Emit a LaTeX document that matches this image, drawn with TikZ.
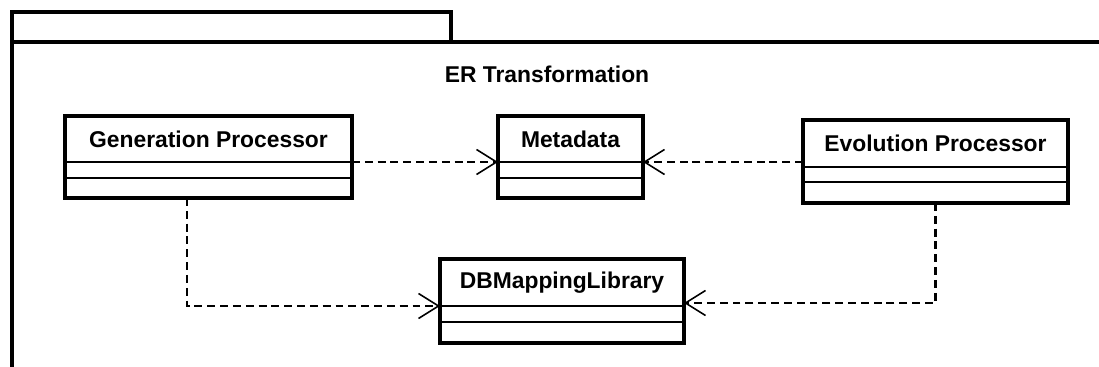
\documentclass[tikz,border=0pt]{standalone}
\usepackage{fontspec}
\setmainfont{Liberation Sans}
\usetikzlibrary{arrows.meta}

\begin{document}
\begin{tikzpicture}
% Define common styles
\tikzset{
    classname/.style={draw, line width=0.8pt, inner sep=0pt, outer sep=0pt, font=\bfseries\fontsize{13}{15}\selectfont},
    compart/.style={draw, line width=0.8pt, inner sep=0pt, outer sep=0pt, anchor=north},
    outline/.style={line width=2.1pt},
    pkg/.style={line width=2.1pt},
    dependency/.style={-{Straight Barb[length=4mm,width=5mm,line width=0.9pt]}, line width=1.3pt, dash pattern=on 4.5pt off 2.8pt},
    label/.style={font=\bfseries\fontsize{13}{15}\selectfont}
}
\useasboundingbox (0,0) rectangle (21.98,-7.34);

% Package frame
\draw[pkg] (0.24,-0.84) -- (0.24,-0.24) -- (9.02,-0.24) -- (9.02,-0.84);
\draw[pkg] (0.24,-7.5) -- (0.24,-0.84) -- (22.2,-0.84);
\node[label] (title) at (10.94,-1.48) {ER Transformation};

% Generation Processor
\node[classname, minimum width=5.74cm, minimum height=0.92cm] (gen) at (4.17,-2.78) {Generation Processor};
\node[compart, minimum width=5.74cm, minimum height=0.32cm] (genA) at (gen.south) {};
\node[compart, minimum width=5.74cm, minimum height=0.40cm] (genO) at (genA.south) {};
\draw[outline] (gen.north west) rectangle (genO.south east);

% Metadata
\node[classname, minimum width=2.9cm, minimum height=0.92cm] (meta) at (11.41,-2.78) {Metadata};
\node[compart, minimum width=2.9cm, minimum height=0.32cm] (metaA) at (meta.south) {};
\node[compart, minimum width=2.9cm, minimum height=0.40cm] (metaO) at (metaA.south) {};
\draw[outline] (meta.north west) rectangle (metaO.south east);

% Evolution Processor
\node[classname, minimum width=5.3cm, minimum height=0.94cm] (evo) at (18.71,-2.87) {Evolution Processor};
\node[compart, minimum width=5.3cm, minimum height=0.30cm] (evoA) at (evo.south) {};
\node[compart, minimum width=5.3cm, minimum height=0.42cm] (evoO) at (evoA.south) {};
\draw[outline] (evo.north west) rectangle (evoO.south east);

% DBMappingLibrary
\node[classname, minimum width=4.88cm, minimum height=0.94cm] (db) at (11.24,-5.65) {DBMappingLibrary};
\node[compart, minimum width=4.88cm, minimum height=0.32cm] (dbA) at (db.south) {};
\node[compart, minimum width=4.88cm, minimum height=0.42cm] (dbO) at (dbA.south) {};
\draw[outline] (db.north west) rectangle (dbO.south east);

% Dependencies
\draw[dependency] (gen.south east) -- (meta.south west);
\draw[dependency] (evo.west |- meta.south east) -- (meta.south east);
\draw[dependency] ([xshift=-4.3mm]genO.south) |- (db.south west);
\draw[dependency] (evoO.south) |- ([yshift=0.6mm]db.south east);

\end{tikzpicture}
\end{document}
